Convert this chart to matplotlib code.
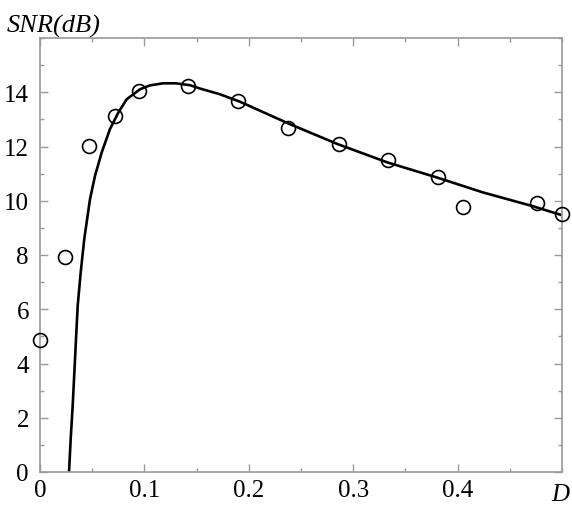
import numpy as np
import matplotlib
matplotlib.use('Agg')
import matplotlib.pyplot as plt
from matplotlib.ticker import MultipleLocator

# measured points
d_pts = [0.0, 0.024, 0.047, 0.072, 0.095, 0.142, 0.190, 0.238, 0.286, 0.333, 0.381, 0.405, 0.476, 0.500]
snr_pts = [4.86, 7.92, 12.01, 13.12, 14.04, 14.22, 13.67, 12.67, 12.08, 11.50, 10.87, 9.76, 9.91, 9.51]

# theoretical curve
d_curve = [0.0278, 0.0294, 0.0313, 0.0329, 0.0345, 0.0361, 0.039, 0.0424, 0.0479, 0.0527, 0.0591,
           0.067, 0.075, 0.083, 0.0958, 0.105, 0.118, 0.13, 0.1437, 0.153, 0.172, 0.191,
           0.239, 0.285, 0.333, 0.380, 0.424, 0.472, 0.4997]
snr_curve = [0.0, 1.22, 2.44, 3.67, 4.90, 6.13, 7.36, 8.59, 10.06, 10.92, 11.78,
             12.64, 13.25, 13.74, 14.11, 14.25, 14.33, 14.33, 14.26, 14.14, 13.93, 13.66,
             12.83, 12.09, 11.41, 10.86, 10.31, 9.80, 9.47]

plt.rcParams['font.family'] = ['Liberation Serif', 'DejaVu Serif']

fig = plt.figure(figsize=(5.72, 5.06), dpi=100)
ax = fig.add_axes([40/572, 33/506, 522/572, 434/506])

ax.plot(d_curve, snr_curve, color='black', lw=1.9, zorder=2, solid_joinstyle='round')
ax.plot(d_pts, snr_pts, 'o', mfc='none', mec='black', ms=10, mew=1.2, zorder=3, clip_on=False)

ax.set_xlim(0, 0.5)
ax.set_ylim(0, 16)
ax.xaxis.set_minor_locator(MultipleLocator(0.05))
ax.yaxis.set_minor_locator(MultipleLocator(1))
ax.set_yticks([0, 2, 4, 6, 8, 10, 12, 14])
ax.set_xticks([0, 0.1, 0.2, 0.3, 0.4])
ax.set_xticklabels(['0', '0.1', '0.2', '0.3', '0.4'])

grey = '#999999'
for s in ax.spines.values():
    s.set_color(grey)
    s.set_linewidth(1.2)
ax.tick_params(which='both', direction='in', top=True, right=True, color=grey, labelsize=18)
ax.tick_params(which='major', length=6, width=1)
ax.tick_params(which='minor', length=3, width=1)
ax.tick_params(axis='x', pad=5)
ax.tick_params(axis='y', pad=8)

fig.text(7/572, 1 - 33/506, 'SNR(dB)', fontsize=19, style='italic', ha='left', va='baseline')
fig.text(551/572, 1 - 484/506, 'D', fontsize=18, style='italic', ha='left', va='top')

fig.savefig('out.png', dpi=100)
